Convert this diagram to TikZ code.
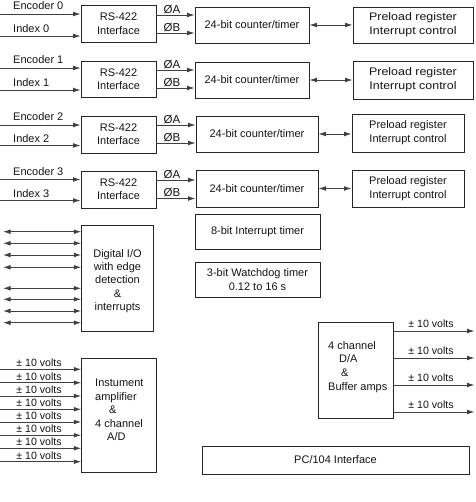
\documentclass[tikz,border=0pt]{standalone}
\usepackage{fontspec}
\setmainfont{Liberation Sans}
\usepackage{graphicx}
\usetikzlibrary{arrows.meta}
\newcommand\mybox[6]{\node[box, minimum width={(#4-#2)*1pt}, minimum height={(#5-#3)*1pt}] (#1) at ({(#2+#4)/2},{(#3+#5)/2}) {#6};}
\begin{document}
\begin{tikzpicture}[x=1pt,y=-1pt,
  every node/.style={font=\fontsize{11}{13.3}\selectfont, text=black!92},
  box/.style={draw=black!85, line width=0.9pt, inner sep=0pt, align=center},
  txt/.style={inner sep=0pt},
  arr/.style={draw=black!75, line width=0.9pt, -{Latex[length=7.5pt,width=4.8pt]}},
  darr/.style={draw=black!75, line width=0.9pt, {Latex[length=7.5pt,width=4.8pt]}-{Latex[length=7.5pt,width=4.8pt]}},
  volts/.style={inner sep=0pt, anchor=base, font=\fontsize{10.6}{12}\selectfont}]
\useasboundingbox (0,0) rectangle (475,502);

% encoder rows
\foreach \i/\rt/\rb/\en/\ix/\pa/\pb/\ct/\cbt/\xa/\xb/\qt/\qb/\ql/\qr/\sx in {
 0/5/42.5/14/36/15/33/7/43/195/309/7/43/353/473/1.13,
 1/61/97.5/68/90/70/88/62/98/195/309/61/99/353/473/1.13,
 2/116/153/125/145.5/125/143/116/152/196/318/114/152/352/464/1,
 3/171/208/179.5/200.5/180/198.5/170/207/196/318/170/207/352/464/1}{
  \mybox{rs\i}{81}{\rt}{156}{\rb}{RS-422\\Interface}
  \mybox{ctr\i}{\xa}{\ct}{\xb}{\cbt}{24-bit counter/timer}
  \mybox{pre\i}{\ql}{\qt}{\qr}{\qb}{\scalebox{\sx}[1]{\fontsize{11}{14}\selectfont\begin{tabular}{@{}c@{}}Preload register\\Interrupt control\end{tabular}}}
  \coordinate (ein\i) at (0,\en);
  \coordinate (iin\i) at (0,\ix);
  \draw[arr] (ein\i) -- (ein\i -| rs\i.west);
  \draw[arr] (iin\i) -- (iin\i -| rs\i.west);
  \node[txt, anchor=base west] (enl\i) at (13,\en-4) {Encoder \i};
  \node[txt, anchor=base west] (ixl\i) at (13,\ix-3) {Index \i};
  \coordinate (pha\i) at (0,\pa);
  \coordinate (phb\i) at (0,\pb);
  \draw[arr] (pha\i -| rs\i.east) -- (pha\i -| ctr\i.west);
  \draw[arr] (phb\i -| rs\i.east) -- (phb\i -| ctr\i.west);
  \node[txt, anchor=base, font=\fontsize{11.5}{13}\selectfont] (pal\i) at (172,\pa-1.8) {ØA};
  \node[txt, anchor=base, font=\fontsize{11.5}{13}\selectfont] (pbl\i) at (172,\pb-1.8) {ØB};
  \draw[darr] (ctr\i.east) -- (ctr\i.east -| pre\i.west);
}

% timers
\mybox{irq}{195}{214}{320}{249}{8-bit Interrupt timer}
\mybox{wdt}{195}{262}{320}{297}{3-bit Watchdog timer\\0.12 to 16 s}

% digital I/O
\mybox{dio}{81.7}{225}{153.3}{331.7}{}
\node[txt, align=center] (diot) at (117.5,281) {Digital I/O\\with edge\\detection\\\&\\interrupts};
\foreach \y [count=\k] in {231.7,243.3,255,267.3,288.3,299.3,311,322.7}{
  \coordinate (dp\k) at (3,\y);
  \draw[darr] (dp\k) -- (dp\k -| dio.west);
}

% instrument amplifier
\mybox{amp}{81.7}{358.3}{156.7}{472.7}{}
\node[txt, anchor=north west, align=left, font=\fontsize{11}{13.5}\selectfont] (ampt) at (95,379) {Instument\\amplifier\\\hspace*{14pt}\&\\4 channel\\\hspace*{12pt}A/D};
\foreach \y [count=\k] in {369.3,382.7,396,409.3,422,435.3,448.3,461.7}{
  \coordinate (ai\k) at (0,\y);
  \draw[arr] (ai\k) -- (ai\k -| amp.west);
  \node[volts] (ail\k) at (39,\y-2.4) {± 10 volts};
}

% D/A
\mybox{da}{318}{322}{393}{418}{}
\node[txt, anchor=north west, align=left, font=\fontsize{11}{13.7}\selectfont] (dat) at (328,341) {4 channel\\\hspace*{11pt}D/A\\\hspace*{13pt}\&\\Buffer amps};
\foreach \y [count=\k] in {331,358,385,412}{
  \coordinate (ao\k) at (474.5,\y);
  \draw[arr] (ao\k -| da.east) -- (ao\k);
  \node[volts] (aol\k) at (431,\y-3.5) {± 10 volts};
}

% PC/104
\mybox{pc}{202}{446}{469}{474}{PC/104 Interface}
\end{tikzpicture}
\end{document}
